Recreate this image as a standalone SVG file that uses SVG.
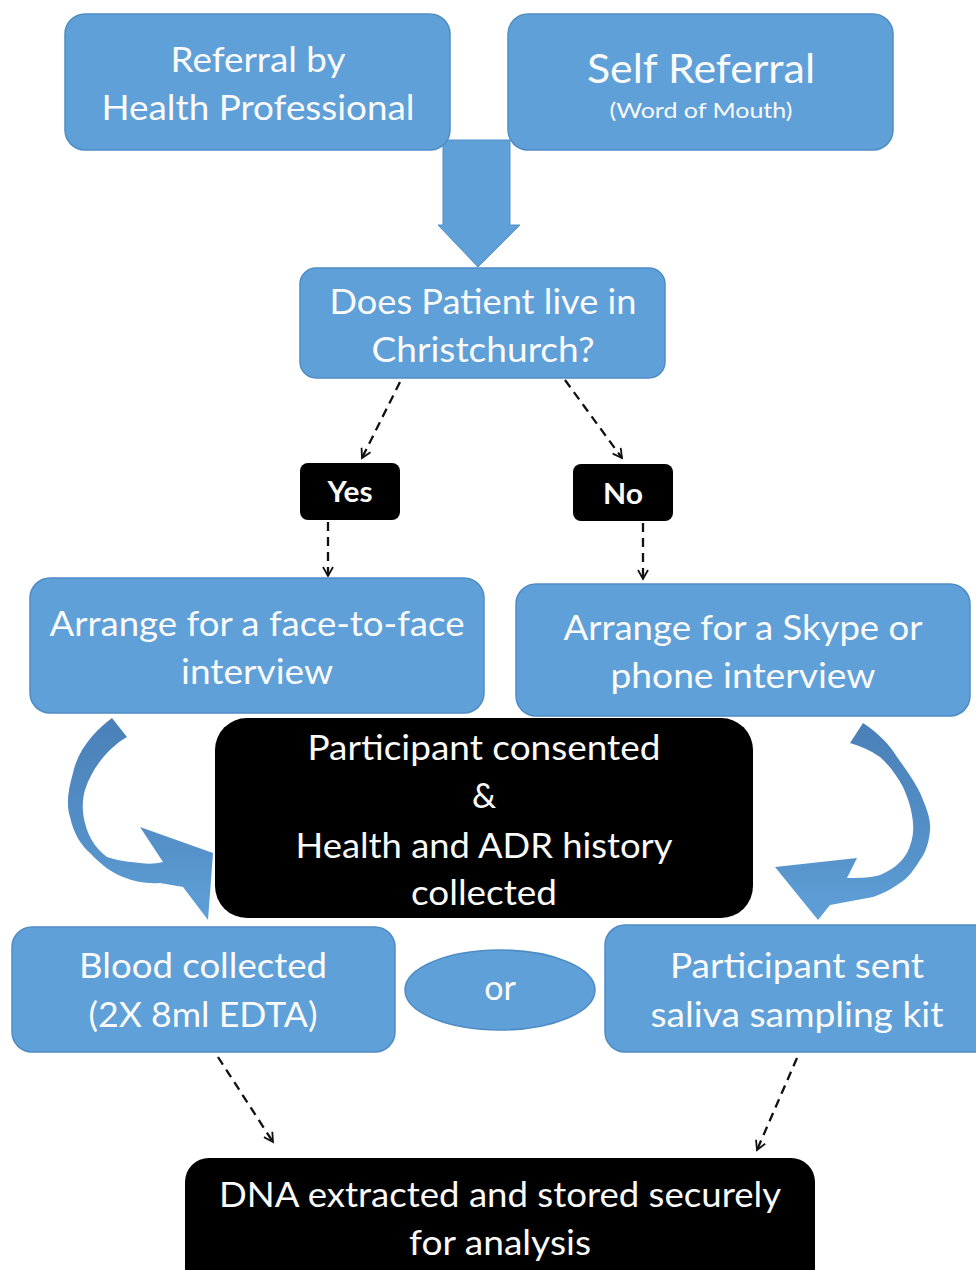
<svg xmlns="http://www.w3.org/2000/svg" width="976" height="1270" viewBox="0 0 976 1270">
<defs>
<style>
.blue{fill:#5fa0d8;stroke:#4f8cc4;stroke-width:1.5}
.blk{fill:#000}
.t{font-family:Lato,"Liberation Sans",sans-serif;fill:#fafafa;text-anchor:middle;font-size:34px}
.b{font-weight:bold;font-size:29px}
.dash{fill:none;stroke:#111;stroke-width:2.3;stroke-dasharray:9 6;marker-end:url(#ah)}
</style>
<marker id="ah" viewBox="0 0 12 12" refX="10" refY="6" markerWidth="12" markerHeight="12" markerUnits="userSpaceOnUse" orient="auto">
<path d="M1,1 L10,6 L1,11" fill="none" stroke="#111" stroke-width="1.8"/>
</marker>
<linearGradient id="cg" x1="0" y1="0" x2="0" y2="1">
<stop offset="0" stop-color="#4a80b8"/>
<stop offset="0.6" stop-color="#5590c8"/>
<stop offset="1" stop-color="#5fa0d8"/>
</linearGradient>
</defs>
<rect width="976" height="1270" fill="#fff"/>
<g id="connectors">
<path d="M443,140 L510,140 L510,225 L520,225 L478,267 L438,225 L443,225 Z" fill="#5fa0d8" stroke="#5390c8" stroke-width="1"/>
<path d="M112,718 C98,728 78,748 73,773 C68,790 66,805 70,817 C74,835 82,846 90,853 C100,864 112,873 123,877 C135,882 148,884 160,883 L183,887 L208,920 L213,853 L140,827 L163,862 C155,864 148,864 140,863 C128,862 115,860 107,857 C95,848 88,836 85,823 C82,812 82,800 85,790 C92,768 108,748 127,737 Z" fill="url(#cg)"/>
<path d="M863,723 C878,733 890,745 897,757 C910,775 920,790 923,800 C928,812 931,822 930,830 C929,842 926,852 920,860 C914,870 908,878 900,883 C890,890 882,894 873,897 L830,905 L818,920 L775,867 L857,858 L847,878 C858,878 870,878 880,875 C892,870 901,863 907,853 C912,843 914,833 913,823 C912,810 908,798 903,787 C897,776 890,766 880,757 C870,750 860,746 850,743 Z" fill="url(#cg)"/>
<path class="dash" d="M400,382 L362,458"/>
<path class="dash" d="M565,380 L622,458"/>
<path class="dash" d="M328,522 L328,576"/>
<path class="dash" d="M643,523 L643,579"/>
<path class="dash" d="M218,1057 L273,1142"/>
<path class="dash" d="M797,1058 L757,1150"/>
</g>
<g id="n1"><rect class="blue" x="65" y="14" width="385" height="136" rx="20"/>
<text class="t" x="258" y="72" textLength="175" lengthAdjust="spacingAndGlyphs">Referral by</text>
<text class="t" x="258" y="120" textLength="313" lengthAdjust="spacingAndGlyphs">Health Professional</text></g>
<g id="n2"><rect class="blue" x="508" y="14" width="385" height="136" rx="20"/>
<text class="t" x="701" y="83" style="font-size:40px" textLength="228" lengthAdjust="spacingAndGlyphs">Self Referral</text>
<text class="t" x="701" y="118" style="font-size:21px" textLength="183" lengthAdjust="spacingAndGlyphs">(Word of Mouth)</text></g>
<g id="n3"><rect class="blue" x="300" y="268" width="365" height="110" rx="16"/>
<text class="t" x="483" y="314" textLength="307" lengthAdjust="spacingAndGlyphs">Does Patient live in</text>
<text class="t" x="483" y="362" textLength="223" lengthAdjust="spacingAndGlyphs">Christchurch?</text></g>
<g id="yes"><rect class="blk" x="300" y="463" width="100" height="57" rx="8"/>
<text class="t b" x="350" y="502" textLength="45" lengthAdjust="spacingAndGlyphs">Yes</text></g>
<g id="no"><rect class="blk" x="573" y="464" width="100" height="57" rx="8"/>
<text class="t b" x="623" y="504" textLength="40" lengthAdjust="spacingAndGlyphs">No</text></g>
<g id="n4"><rect class="blue" x="30" y="578" width="454" height="135" rx="20"/>
<text class="t" x="257" y="636" textLength="415" lengthAdjust="spacingAndGlyphs">Arrange for a face-to-face</text>
<text class="t" x="257" y="684" textLength="152" lengthAdjust="spacingAndGlyphs">interview</text></g>
<g id="n5"><rect class="blue" x="516" y="584" width="454" height="132" rx="20"/>
<text class="t" x="743" y="640" textLength="359" lengthAdjust="spacingAndGlyphs">Arrange for a Skype or</text>
<text class="t" x="743" y="688" textLength="265" lengthAdjust="spacingAndGlyphs">phone interview</text></g>
<g id="n6"><rect class="blk" x="215" y="718" width="538" height="200" rx="32"/>
<text class="t" x="484" y="760" textLength="353" lengthAdjust="spacingAndGlyphs">Participant consented</text>
<text class="t" x="484" y="808">&amp;</text>
<text class="t" x="484" y="858" textLength="377" lengthAdjust="spacingAndGlyphs">Health and ADR history</text>
<text class="t" x="484" y="905" textLength="146" lengthAdjust="spacingAndGlyphs">collected</text></g>
<g id="n7"><rect class="blue" x="12" y="927" width="383" height="125" rx="20"/>
<text class="t" x="203" y="978" textLength="248" lengthAdjust="spacingAndGlyphs">Blood collected</text>
<text class="t" x="203" y="1027" textLength="229" lengthAdjust="spacingAndGlyphs">(2X 8ml EDTA)</text></g>
<g id="or"><ellipse class="blue" cx="500" cy="990" rx="95" ry="40"/>
<text class="t" x="500" y="1000">or</text></g>
<g id="n8"><rect class="blue" x="605" y="925" width="390" height="127" rx="20"/>
<text class="t" x="797" y="978" textLength="254" lengthAdjust="spacingAndGlyphs">Participant sent</text>
<text class="t" x="797" y="1027" textLength="293" lengthAdjust="spacingAndGlyphs">saliva sampling kit</text></g>
<g id="n9"><rect class="blk" x="185" y="1158" width="630" height="140" rx="24"/>
<text class="t" x="500" y="1207" textLength="562" lengthAdjust="spacingAndGlyphs">DNA extracted and stored securely</text>
<text class="t" x="500" y="1255" textLength="182" lengthAdjust="spacingAndGlyphs">for analysis</text></g>
</svg>
